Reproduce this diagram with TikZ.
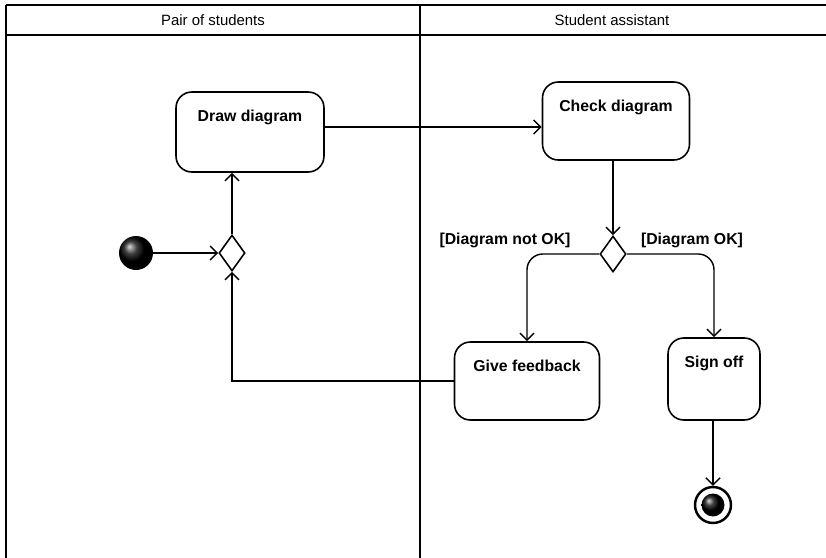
\documentclass[tikz,border=0pt]{standalone}
\usepackage{fontspec}
\setmainfont{Liberation Sans}
\usetikzlibrary{shapes.geometric,arrows.meta}

\tikzset{
  activity/.style={draw, line width=0.9pt, rounded corners=9pt, inner sep=0pt},
  choice/.style={draw, diamond, line width=0.9pt, inner sep=0pt,
    minimum width=0.52cm, minimum height=0.72cm},
  flow/.style={-{Straight Barb[length=4pt,width=8pt]}, line width=0.8pt},
  lane/.style={line width=0.8pt},
  boxtext/.style={font=\fontsize{9}{11}\selectfont\bfseries},
}

\begin{document}
\begin{tikzpicture}[x=0.02cm, y=-0.02cm]
        \useasboundingbox (0,0) rectangle (826,558);

        % swimlanes
        \draw[lane] (6,5) -- (826,5);
        \draw[lane] (6,35) -- (826,35);
        \draw[lane] (6,5) -- (6,558);
        \draw[lane] (420,5) -- (420,558);
        \node[font=\fontsize{8.5}{10}\selectfont] (lanea) at (213,20) {Pair of students};
        \node[font=\fontsize{8.5}{10}\selectfont] (laneb) at (612,20) {Student assistant};

        % nodes
        \node[circle, ball color=black, minimum size=0.68cm, inner sep=0pt] (start) at (136,253) {};
        \node[choice] (merge) at (232,253) {};
        \node[activity, minimum width=2.96cm, minimum height=1.6cm,
          label={[boxtext, anchor=north, yshift=-7pt]north:Draw diagram}] (drawdia) at (250,132) {};
        \node[activity, minimum width=2.94cm, minimum height=1.56cm,
          label={[boxtext, anchor=north, yshift=-7pt]north:Check diagram}] (checkdia) at (616,121) {};
        \node[choice] (decide) at (613,254) {};
        \node[activity, minimum width=2.9cm, minimum height=1.56cm,
          label={[boxtext, anchor=north, yshift=-7pt]north:Give feedback}] (feedback) at (527,381) {};
        \node[activity, minimum width=1.84cm, minimum height=1.64cm,
          label={[boxtext, anchor=north, yshift=-7pt]north:Sign off}] (signoff) at (714,379) {};
        \node[circle, draw, line width=1.4pt, minimum size=0.72cm, inner sep=0pt] (stop) at (713,505) {};
        \node[circle, ball color=black, minimum size=0.46cm, inner sep=0pt] (stopdot) at (713,505) {};

        \node[boxtext] (notok) at (505,240) {[Diagram not OK]};
        \node[boxtext] (isok) at (692,240) {[Diagram OK]};

        % connectors
        \coordinate (row) at (0,127);
        \draw[flow] (start) -- (merge.west);
        \draw[flow] (merge.north) -- (drawdia.south -| merge);
        \draw[flow] (drawdia.east |- row) -- (checkdia.west |- row);
        \draw[flow] (checkdia.south -| decide) -- (decide.north);
        \draw[flow, rounded corners=9pt] (decide.west) -| (feedback.north);
        \draw[flow, rounded corners=9pt] (decide.east) -| (signoff.north);
        \draw[flow] (feedback.west) -| (merge.south);
        \draw[flow] (signoff.south -| stop) -- (stop.north);
\end{tikzpicture}
\end{document}
